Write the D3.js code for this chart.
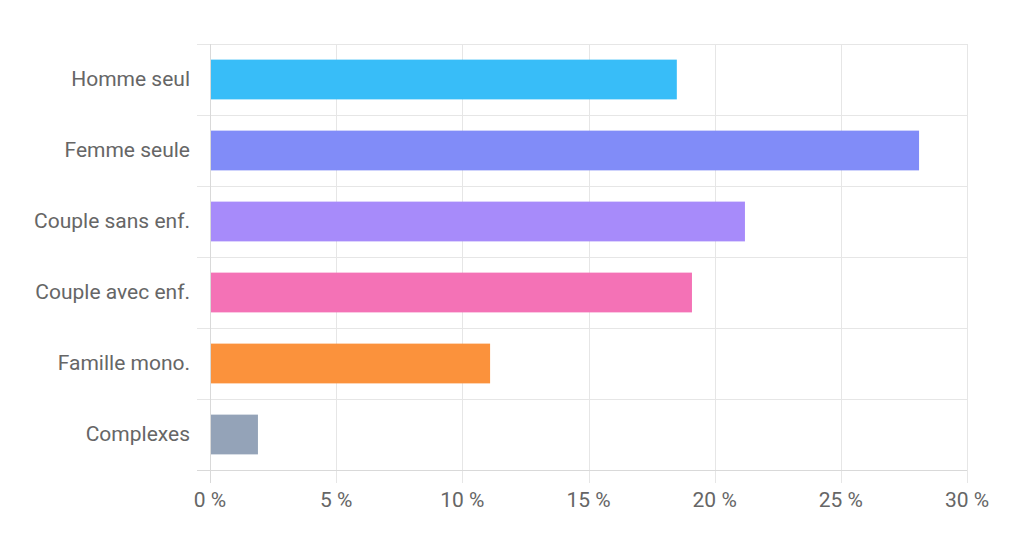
<html>
<head>
	<meta charset="UTF-8">
	<title>Ménages</title>
	<script src="https://cdn.jsdelivr.net/npm/d3@7"></script>
	<style>
		body {
			padding: 0;
			margin: 0;
			background: #fff;
		}
	</style>
</head>
<body>
	<script>
		var w = 1024,
			h = 547;

		// data
		var categories = ["Homme seul", "Femme seule", "Couple sans enf.", "Couple avec enf.", "Famille mono.", "Complexes"];
		var values = [18.5, 28.1, 21.2, 19.1, 11.1, 1.9];
		var colors = ["#38bdf8", "#818cf8", "#a78bfa", "#f472b6", "#fb923c", "#94a3b8"];
		var ticks = [0, 5, 10, 15, 20, 25, 30];

		// plot box (note: "top" is taken by window.top)
		var pL = 210, pR = 967, pT = 44, pB = 470;

		var x = d3.scaleLinear().domain([0, 30]).range([pL, pR]);
		var y = d3.scaleBand().domain(categories).range([pT, pB]).paddingInner(0.44).paddingOuter(0.22);

		var svg = d3.select("body").append("svg")
			.attr("width", w)
			.attr("height", h)
			.style("font-family", "Roboto, 'Liberation Sans', sans-serif");

		var grid = "#e6e6e6";

		// vertical grid lines (extend below the axis as ticks)
		svg.append("g").selectAll("line").data(ticks).enter().append("line")
			.attr("x1", d => Math.round(x(d)) + 0.5).attr("x2", d => Math.round(x(d)) + 0.5)
			.attr("y1", pT).attr("y2", pB + 13)
			.attr("stroke", grid).attr("stroke-width", 1);

		// horizontal row lines (extend left of the axis as ticks)
		var rowStep = (pB - pT) / categories.length;
		var rows = d3.range(categories.length + 1);
		svg.append("g").selectAll("line").data(rows).enter().append("line")
			.attr("x1", pL - 13).attr("x2", pR)
			.attr("y1", d => Math.round(pT + d * rowStep) + 0.5)
			.attr("y2", d => Math.round(pT + d * rowStep) + 0.5)
			.attr("stroke", grid).attr("stroke-width", 1);

		// axis lines
		svg.append("line").attr("x1", pL + 0.5).attr("x2", pL + 0.5).attr("y1", pT).attr("y2", pB + 13)
			.attr("stroke", "#d9d9d9");
		svg.append("line").attr("x1", pL - 13).attr("x2", pR).attr("y1", pB + 0.5).attr("y2", pB + 0.5)
			.attr("stroke", "#d9d9d9");

		// bars
		svg.append("g").selectAll("rect").data(values).enter().append("rect")
			.attr("x", pL + 1)
			.attr("y", (d, i) => y(categories[i]))
			.attr("width", d => x(d) - pL - 1)
			.attr("height", y.bandwidth())
			.attr("fill", (d, i) => colors[i]);

		// category labels
		svg.append("g").selectAll("text").data(categories).enter().append("text")
			.attr("x", 190)
			.attr("y", d => y(d) + y.bandwidth() / 2 - 1)
			.attr("dy", "0.35em")
			.attr("text-anchor", "end")
			.attr("font-size", 21)
			.attr("fill", "#666")
			.text(d => d);

		// x tick labels
		svg.append("g").selectAll("text").data(ticks).enter().append("text")
			.attr("x", d => x(d))
			.attr("y", 500)
			.attr("dy", "0.35em")
			.attr("text-anchor", "middle")
			.attr("font-size", 21)
			.attr("fill", "#666")
			.text(d => d + " %");
	</script>
</body>
</html>
